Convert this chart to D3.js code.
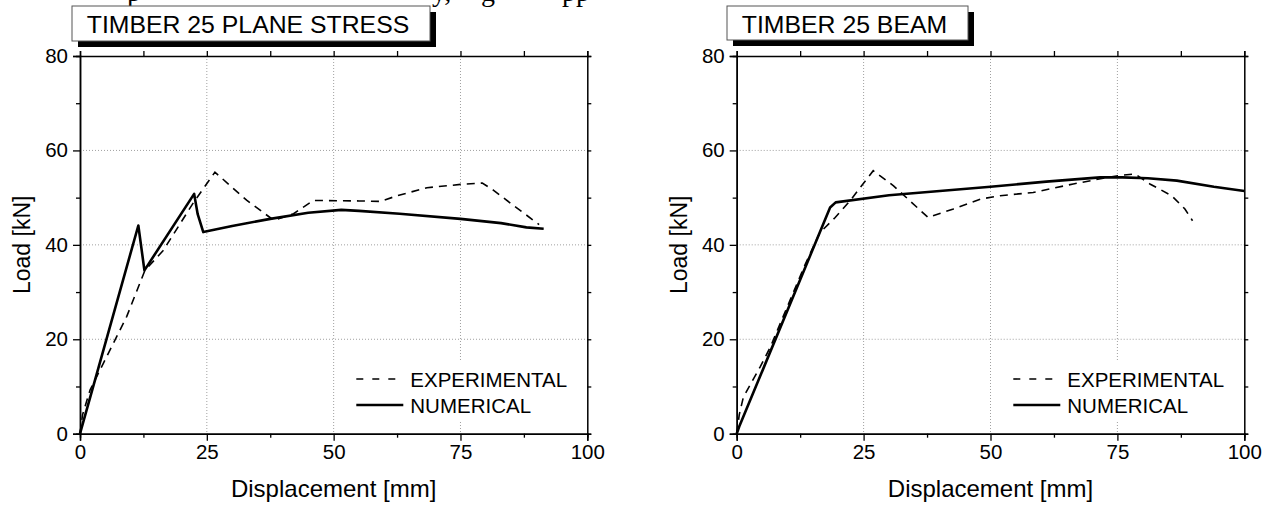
<!DOCTYPE html>
<html>
<head>
<meta charset="utf-8">
<script src="https://cdn.jsdelivr.net/npm/d3@7"></script>
<style>
  html, body { margin: 0; padding: 0; background: #fff; }
  svg { display: block; }
  text { font-family: "Liberation Sans", Arial, sans-serif; fill: #000; }
</style>
</head>
<body>
<svg id="chart" width="1272" height="506"></svg>
<script>
// ---------------- data ----------------
const xTicks = [0, 25, 50, 75, 100];
const xMinorTicks = [12.5, 37.5, 62.5, 87.5];
const yTicks = [0, 20, 40, 60, 80];
const yMinorTicks = [10, 30, 50, 70];
const legendLabels = ["EXPERIMENTAL", "NUMERICAL"];
const panelTitles = ["TIMBER 25 PLANE STRESS", "TIMBER 25 BEAM"];
const xAxisTitle = "Displacement [mm]";
const yAxisTitle = "Load [kN]";

// Panel 1: plane stress  [displacement mm, load kN]
const planeExperimental = [
  [0, 0], [0.5, 4], [2, 9.3], [4.6, 14.9], [9.2, 24.8], [12.8, 34.6], [16.4, 38.8],
  [22.4, 49], [26.6, 55.4], [32.9, 49.4], [38.2, 45.2], [42.1, 46.6], [46, 49.4],
  [55, 49.3], [59.2, 49.2], [62.5, 50.4], [68.4, 52.1], [75, 52.8], [79.3, 53.1],
  [81.6, 51.5], [85.5, 48.3], [90.5, 44.3]
];
const planeNumerical = [
  [0, 0], [11.5, 44.1], [12.7, 34.6], [22.5, 50.8], [23.2, 46.5], [24.3, 42.7],
  [30, 44], [37.5, 45.5], [45, 46.8], [51.5, 47.4], [55, 47.2], [63, 46.6],
  [75, 45.5], [83, 44.6], [88, 43.7], [91.4, 43.4]
];

// Panel 2: beam
const beamExperimental = [
  [0, 0], [0.5, 4], [1.3, 7.7], [4.6, 14.1], [6.6, 18.3], [13.5, 35.9], [16.4, 42.6],
  [19.4, 45.8], [22.3, 49.3], [26.9, 55.7], [30.9, 52.5], [37.7, 45.8], [42.7, 47.6],
  [48, 49.7], [51.9, 50.4], [58.4, 51.1], [66.3, 52.9], [72.2, 54.1], [76.2, 54.8],
  [78.5, 55], [81.4, 52.9], [85.7, 50.4], [88.3, 47.6], [89.8, 45.1]
];
const beamNumerical = [
  [0, 0], [0.5, 1.5], [18.4, 47.9], [19.5, 49], [30, 50.5], [40, 51.4], [50, 52.3],
  [61, 53.4], [71.6, 54.3], [76, 54.3], [81, 54.1], [86.7, 53.6], [94, 52.3], [100, 51.4]
];

// cropped text line of the surrounding page (only descenders visible)
const pageFragments = [
  { t: "p", x: 127 }, { t: "y,", x: 432 }, { t: "g", x: 481 }, { t: "pp", x: 562 }
];

// ---------------- drawing ----------------
const svg = d3.select("#chart");

svg.append("g").selectAll("text").data(pageFragments).join("text")
  .attr("x", d => d.x).attr("y", 1)
  .style("font-family", "'Liberation Serif', 'Times New Roman', serif")
  .style("font-size", "28px")
  .text(d => d.t);

const panels = [
  { left: 80, right: 587.3, title: panelTitles[0], exp: planeExperimental, num: planeNumerical,
    box: [72, 6, 358, 35] },
  { left: 736.7, right: 1244.3, title: panelTitles[1], exp: beamExperimental, num: beamNumerical,
    box: [727, 6, 241, 34] }
];
const yTop = 56, yBottom = 433.7;

panels.forEach(p => {
  const g = svg.append("g");
  const x = d3.scaleLinear().domain([0, 100]).range([p.left, p.right]);
  const y = d3.scaleLinear().domain([0, 80]).range([yBottom, yTop]);

  // grid
  g.append("g").selectAll("line").data(xTicks.slice(1, -1)).join("line")
    .attr("x1", d => x(d)).attr("x2", d => x(d)).attr("y1", yTop).attr("y2", yBottom)
    .attr("stroke", "#a0a0a0").attr("stroke-width", 1).attr("stroke-dasharray", "1,2");
  g.append("g").selectAll("line").data(yTicks.slice(1, -1)).join("line")
    .attr("y1", d => y(d)).attr("y2", d => y(d)).attr("x1", p.left).attr("x2", p.right)
    .attr("stroke", "#a0a0a0").attr("stroke-width", 1).attr("stroke-dasharray", "1,2");

  // legend background
  g.append("rect")
    .attr("x", p.right - 237).attr("y", 361).attr("width", 232).attr("height", 60)
    .attr("fill", "#fff");

  // curves
  const line = d3.line().x(d => x(d[0])).y(d => y(d[1]));
  g.append("path").datum(p.exp).attr("d", line)
    .attr("fill", "none").attr("stroke", "#000").attr("stroke-width", 1.6)
    .attr("stroke-dasharray", "8,6");
  g.append("path").datum(p.num).attr("d", line)
    .attr("fill", "none").attr("stroke", "#000").attr("stroke-width", 2.6)
    .attr("stroke-linejoin", "round");

  // axes
  const styleAxis = sel => {
    sel.selectAll(".domain").attr("stroke", "#000").attr("stroke-width", 1.5);
    sel.selectAll(".tick line").attr("stroke", "#000").attr("stroke-width", 1.3);
    sel.selectAll("text").style("font-size", "20.5px").style("font-family", "'Liberation Sans', Arial, sans-serif");
  };
  g.append("g").attr("transform", `translate(0,${yBottom})`)
    .call(d3.axisBottom(x).tickValues(xTicks).tickSize(7).tickPadding(4).tickFormat(d3.format("d")))
    .call(styleAxis);
  g.append("g").attr("transform", `translate(0,${yBottom})`)
    .call(d3.axisBottom(x).tickValues(xMinorTicks).tickSize(4).tickFormat(""))
    .call(styleAxis);
  g.append("g").attr("transform", `translate(0,${yTop})`)
    .call(d3.axisTop(x).tickValues(xTicks.concat(xMinorTicks)).tickSize(5).tickFormat(""))
    .call(styleAxis);
  g.append("g").attr("transform", `translate(${p.left},0)`)
    .call(d3.axisLeft(y).tickValues(yTicks).tickSize(7).tickPadding(5).tickFormat(d3.format("d")))
    .call(styleAxis);
  g.append("g").attr("transform", `translate(${p.left},0)`)
    .call(d3.axisLeft(y).tickValues(yMinorTicks).tickSize(4).tickFormat(""))
    .call(styleAxis);
  g.append("g").attr("transform", `translate(${p.right},0)`)
    .call(d3.axisRight(y).tickValues(yTicks.concat(yMinorTicks)).tickSize(4).tickFormat(""))
    .call(styleAxis);

  // axis titles
  g.append("text").attr("x", (p.left + p.right) / 2).attr("y", 497)
    .attr("text-anchor", "middle").style("font-size", "24px").text(xAxisTitle);
  g.append("text")
    .attr("transform", `translate(${p.left - 50},${(yTop + yBottom) / 2}) rotate(-90)`)
    .attr("text-anchor", "middle").style("font-size", "23px").text(yAxisTitle);

  // legend
  const lx = p.right - 231;
  g.append("line").attr("x1", lx).attr("x2", lx + 41).attr("y1", 379).attr("y2", 379)
    .attr("stroke", "#000").attr("stroke-width", 1.6).attr("stroke-dasharray", "7,9");
  g.append("line").attr("x1", lx).attr("x2", lx + 47).attr("y1", 405).attr("y2", 405)
    .attr("stroke", "#000").attr("stroke-width", 2.6);
  g.append("text").attr("x", p.right - 177).attr("y", 387).style("font-size", "20.5px").text(legendLabels[0]);
  g.append("text").attr("x", p.right - 177).attr("y", 413).style("font-size", "20.5px").text(legendLabels[1]);

  // title box with shadow
  const [bx, by, bw, bh] = p.box;
  g.append("rect").attr("x", bx + 6).attr("y", by + 6).attr("width", bw).attr("height", bh).attr("fill", "#000");
  g.append("rect").attr("x", bx).attr("y", by).attr("width", bw).attr("height", bh)
    .attr("fill", "#fff").attr("stroke", "#555").attr("stroke-width", 1);
  g.append("text").attr("x", bx + bw / 2 - 3).attr("y", by + 27)
    .attr("text-anchor", "middle").style("font-size", "24.8px").text(p.title);
});
</script>
</body>
</html>
